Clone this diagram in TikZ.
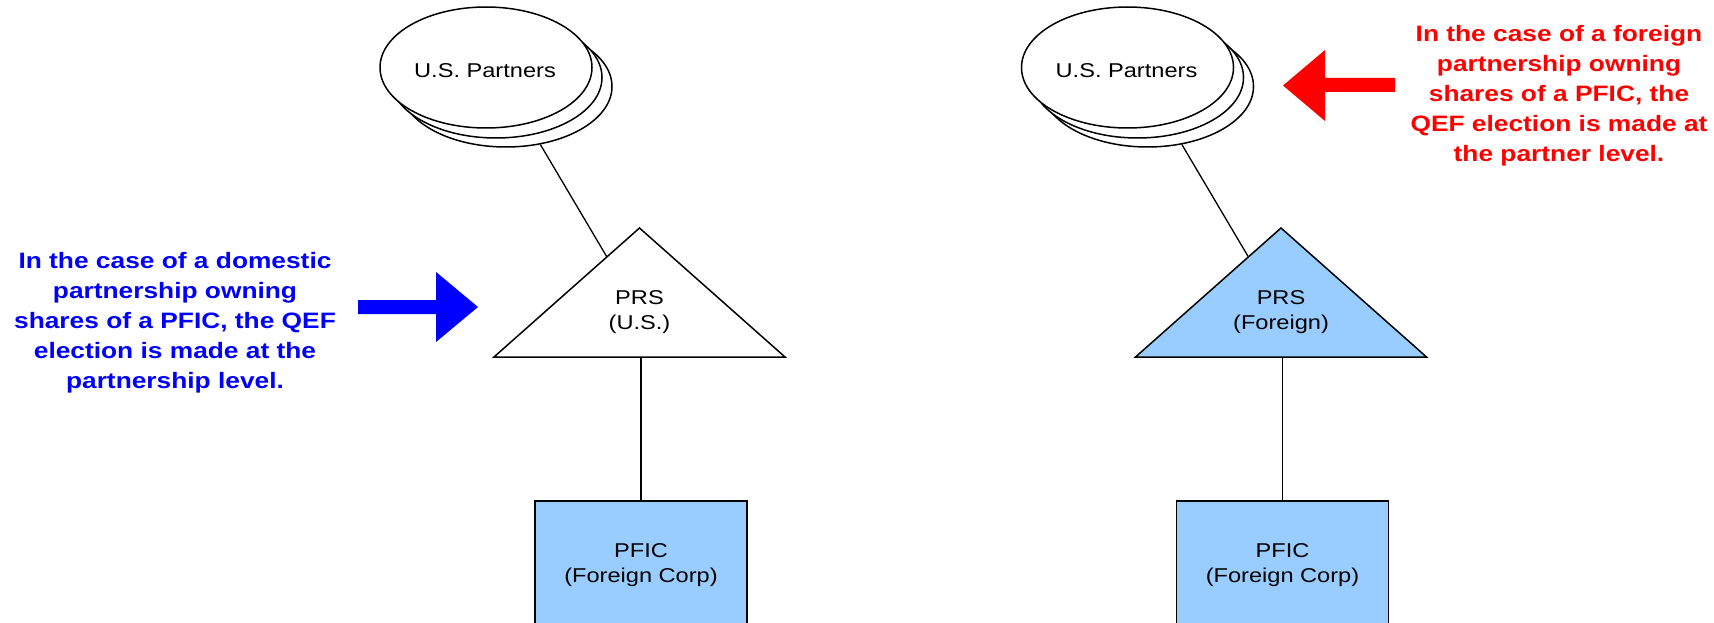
\documentclass[tikz,border=0pt]{standalone}
\usepackage{fontspec}
\setmainfont{Liberation Sans}[FakeStretch=1.18]
\usetikzlibrary{shapes.geometric,backgrounds}
\definecolor{lblue}{HTML}{99CCFF}
\tikzset{
  lw/.style={line width=1.5pt},
  partner/.style={ellipse,draw,lw,fill=white,minimum width=212pt,minimum height=121pt,inner sep=0pt},
  lbl/.style={inner sep=0pt,align=center,font=\fontsize{20}{25.5}\selectfont},
  pficbox/.style={rectangle,draw,lw,fill=lblue,minimum width=212pt,minimum height=128pt,inner sep=0pt,align=center,font=\fontsize{20}{25.5}\selectfont},
  note/.style={inner sep=0pt,align=center,font=\bfseries\fontsize{22.3}{30}\selectfont},
  conn/.style={draw,line width=1.3pt}
}
\begin{document}
\begin{tikzpicture}[x=1pt,y=-1pt]
\useasboundingbox (0,0) rectangle (1714,623);
\clip (0,0) rectangle (1714,623);
% ---------- left group ----------
\node[partner] (le3) at (506,86.5) {};
\node[partner] (le2) at (496,77.5) {};
\node[partner] (le1) at (486,67.5) {};
\node[lbl] (lpart) at (485,70.5) {U.S. Partners};
\fill[white,draw=black,lw,line join=miter] (494,357) -- (639.5,228) -- (785,357) -- cycle;
\node[lbl] (lprs) at (639.5,312) {PRS\\(U.S.)};
\node[pficbox] (lpfic) at (641,565) {PFIC\\(Foreign Corp)};
\begin{scope}[on background layer]
\draw[conn] (le3) -- (lprs.center);
\draw[conn] (lpfic.north) -- (lpfic.north |- lprs.center);
\end{scope}
% ---------- right group ----------
\node[partner] (re3) at (1147.5,86.5) {};
\node[partner] (re2) at (1137.5,77.5) {};
\node[partner] (re1) at (1127.5,67.5) {};
\node[lbl] (rpart) at (1126.5,70.5) {U.S. Partners};
\fill[lblue,draw=black,lw,line join=miter] (1135.5,357) -- (1281,228) -- (1426.5,357) -- cycle;
\node[lbl] (rprs) at (1281,312) {PRS\\(Foreign)};
\node[pficbox] (rpfic) at (1282.5,565) {PFIC\\(Foreign Corp)};
\begin{scope}[on background layer]
\draw[conn] (re3) -- (rprs.center);
\draw[conn] (rpfic.north) -- (rpfic.north |- rprs.center);
\end{scope}
% ---------- notes ----------
\node[note,text=blue,anchor=north] (bnote) at (175,252.5) {In the case of a domestic\\partnership owning\\shares of a PFIC, the QEF\\election is made at the\\partnership level.};
\fill[blue] (358,300) -- (436,300) -- (436,272) -- (478,307) -- (436,342) -- (436,314) -- (358,314) -- cycle;
\node[note,text=red,anchor=north] (rnote) at (1559,25) {In the case of a foreign\\partnership owning\\shares of a PFIC, the\\QEF election is made at\\the partner level.};
\fill[red] (1395,78) -- (1325,78) -- (1325,50) -- (1283,85.5) -- (1325,121) -- (1325,92) -- (1395,92) -- cycle;
\end{tikzpicture}
\end{document}
